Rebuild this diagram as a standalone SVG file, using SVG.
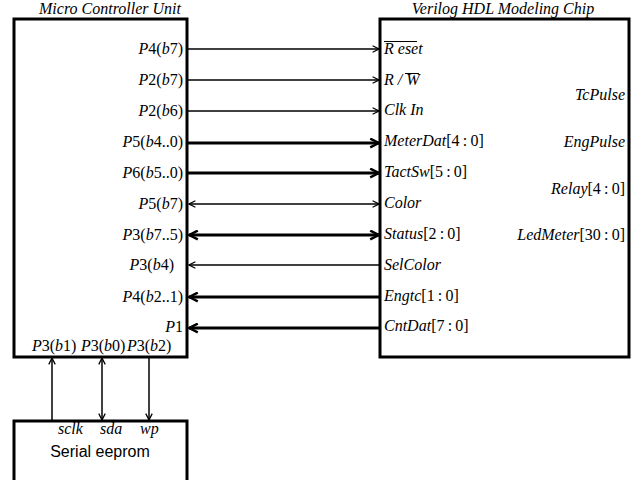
<svg xmlns="http://www.w3.org/2000/svg" width="638" height="480" viewBox="0 0 638 480">
<style>
.box{fill:#fff;stroke:#000;stroke-width:3}
.t{font-family:"Liberation Serif","Times New Roman",serif;font-size:16px;fill:#000}
.i{font-style:italic}
.s{font-family:"Liberation Sans",Arial,sans-serif;font-size:16px;fill:#000}
.thin{stroke:#000;stroke-width:1.5;fill:none}
.thick{stroke:#000;stroke-width:3;fill:none}
.r{text-anchor:end}
.c{text-anchor:middle}
</style>
<defs>
<marker id="ah" viewBox="0 0 10 10" refX="9" refY="5" markerWidth="8" markerHeight="8" markerUnits="userSpaceOnUse" orient="auto-start-reverse"><path d="M1,1 L9,5 L1,9" fill="none" stroke="#000" stroke-width="1.6"/></marker>
<marker id="ahb" viewBox="0 0 10 10" refX="9" refY="5" markerWidth="11" markerHeight="11" markerUnits="userSpaceOnUse" orient="auto-start-reverse"><path d="M1,1 L9,5 L1,9" fill="none" stroke="#000" stroke-width="2.2"/></marker>
</defs>
<rect width="638" height="480" fill="#fff"/>

<g id="mcu">
<rect class="box" x="14" y="19" width="173" height="338"/>
<text class="t i c" x="110" y="14">Micro Controller Unit</text>
<text class="t r" x="183" y="54"><tspan class="i">P</tspan>4(<tspan class="i">b</tspan>7)</text>
<text class="t r" x="183" y="85"><tspan class="i">P</tspan>2(<tspan class="i">b</tspan>7)</text>
<text class="t r" x="183" y="116"><tspan class="i">P</tspan>2(<tspan class="i">b</tspan>6)</text>
<text class="t r" x="183" y="147"><tspan class="i">P</tspan>5(<tspan class="i">b</tspan>4..0)</text>
<text class="t r" x="183" y="178"><tspan class="i">P</tspan>6(<tspan class="i">b</tspan>5..0)</text>
<text class="t r" x="183" y="209"><tspan class="i">P</tspan>5(<tspan class="i">b</tspan>7)</text>
<text class="t r" x="183" y="240"><tspan class="i">P</tspan>3(<tspan class="i">b</tspan>7..5)</text>
<text class="t r" x="174" y="270"><tspan class="i">P</tspan>3(<tspan class="i">b</tspan>4)</text>
<text class="t r" x="183" y="302"><tspan class="i">P</tspan>4(<tspan class="i">b</tspan>2..1)</text>
<text class="t r" x="183" y="332"><tspan class="i">P</tspan>1</text>
<text class="t" x="32" y="351"><tspan class="i">P</tspan>3(<tspan class="i">b</tspan>1)</text>
<text class="t" x="81" y="351"><tspan class="i">P</tspan>3(<tspan class="i">b</tspan>0)</text>
<text class="t" x="127" y="351"><tspan class="i">P</tspan>3(<tspan class="i">b</tspan>2)</text>
</g>

<g id="chip">
<rect class="box" x="380" y="19" width="249" height="338"/>
<text class="t i c" x="503" y="14">Verilog HDL Modeling Chip</text>
<text class="t i" x="384" y="54">R eset</text>
<line x1="384" y1="41.5" x2="417" y2="41.5" stroke="#000" stroke-width="1"/>
<text class="t i" x="384" y="85">R / W</text>
<line x1="405" y1="73.5" x2="419" y2="73.5" stroke="#000" stroke-width="1"/>
<text class="t i" x="384" y="115">Clk In</text>
<text class="t" x="384" y="146"><tspan class="i">MeterDat</tspan>[4&#8201;:&#8201;0]</text>
<text class="t" x="384" y="177"><tspan class="i">TactSw</tspan>[5&#8201;:&#8201;0]</text>
<text class="t i" x="384" y="208">Color</text>
<text class="t" x="384" y="239"><tspan class="i">Status</tspan>[2&#8201;:&#8201;0]</text>
<text class="t i" x="384" y="270">SelColor</text>
<text class="t" x="384" y="301"><tspan class="i">Engtc</tspan>[1&#8201;:&#8201;0]</text>
<text class="t" x="384" y="331"><tspan class="i">CntDat</tspan>[7&#8201;:&#8201;0]</text>
<text class="t i r" x="625" y="100">TcPulse</text>
<text class="t i r" x="625" y="147">EngPulse</text>
<text class="t r" x="625" y="194"><tspan class="i">Relay</tspan>[4&#8201;:&#8201;0]</text>
<text class="t r" x="625" y="240"><tspan class="i">LedMeter</tspan>[30&#8201;:&#8201;0]</text>
</g>

<g id="eeprom">
<rect class="box" x="14" y="421" width="173" height="70"/>
<text class="t i" x="58" y="434">sclk</text>
<text class="t i" x="100" y="434">sda</text>
<text class="t i" x="140" y="434">wp</text>
<text class="s c" x="100" y="457">Serial eeprom</text>
</g>

<g id="connectors">
<line class="thin" x1="188" y1="49" x2="379" y2="49" marker-end="url(#ah)"/>
<line class="thin" x1="188" y1="80" x2="379" y2="80" marker-end="url(#ah)"/>
<line class="thin" x1="188" y1="111" x2="379" y2="111" marker-end="url(#ah)"/>
<line class="thick" x1="188" y1="143" x2="379" y2="143" marker-end="url(#ahb)"/>
<line class="thick" x1="188" y1="173" x2="379" y2="173" marker-end="url(#ahb)"/>
<line class="thin" x1="189" y1="204" x2="379" y2="204" marker-start="url(#ah)" marker-end="url(#ah)"/>
<line class="thick" x1="189" y1="235" x2="379" y2="235" marker-start="url(#ahb)" marker-end="url(#ahb)"/>
<line class="thin" x1="189" y1="265" x2="379" y2="265" marker-start="url(#ah)"/>
<line class="thick" x1="189" y1="297" x2="379" y2="297" marker-start="url(#ahb)"/>
<line class="thick" x1="189" y1="328" x2="379" y2="328" marker-start="url(#ahb)"/>
<line class="thin" x1="52" y1="420" x2="52" y2="358" marker-end="url(#ah)"/>
<line class="thin" x1="102" y1="358" x2="102" y2="420" marker-start="url(#ah)" marker-end="url(#ah)"/>
<line class="thin" x1="149" y1="358" x2="149" y2="420" marker-end="url(#ah)"/>
</g>
</svg>
